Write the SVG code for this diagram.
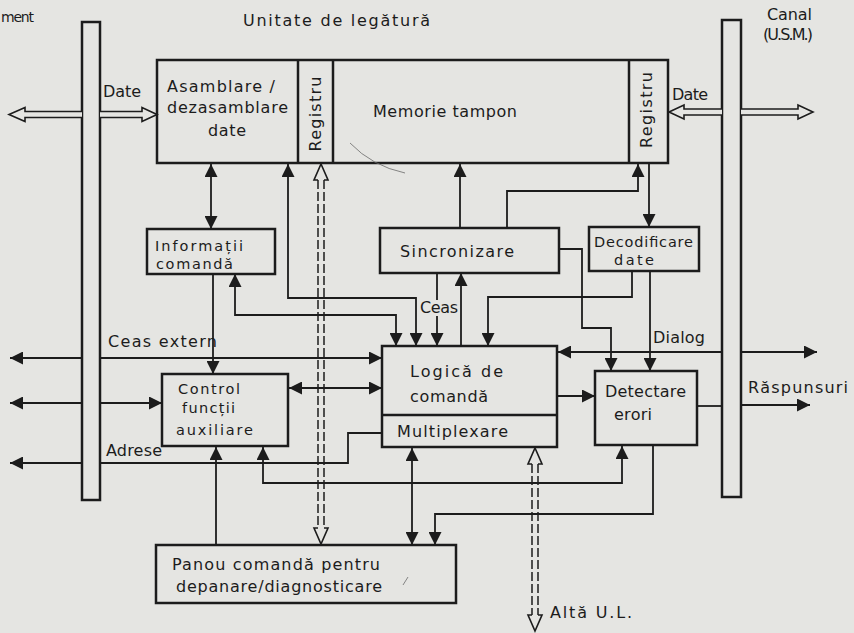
<svg xmlns="http://www.w3.org/2000/svg" width="854" height="633" viewBox="0 0 854 633">
<defs>
<marker id="ah" viewBox="0 0 13 13" refX="13" refY="6.5" markerWidth="13" markerHeight="13" markerUnits="userSpaceOnUse" orient="auto-start-reverse">
<path d="M0,0 L13,6.5 L0,13 z" fill="#1c1c1c"/>
</marker>
<style>
.bg{fill:#e5e5e2}
.box{fill:none;stroke:#1c1c1c;stroke-width:2.5}
.bus{fill:#e5e5e2;stroke:#1c1c1c;stroke-width:2.5}
.ln{fill:none;stroke:#1c1c1c;stroke-width:1.8}
.a1{marker-end:url(#ah)}
.a2{marker-start:url(#ah);marker-end:url(#ah)}
.hol{fill:#e5e5e2;stroke:#1c1c1c;stroke-width:1.6;stroke-linejoin:miter}
.dsh{fill:none;stroke:#1c1c1c;stroke-width:1.5;stroke-dasharray:9 3}
.t{font-family:"DejaVu Sans","Liberation Sans",sans-serif;font-size:16px;fill:#1c1c1c}
.s{font-size:14.5px}
.mark{fill:none;stroke:#6a6a6a;stroke-width:0.8}
</style>
</defs>
<rect class="bg" x="0" y="0" width="854" height="633"/>

<g id="labels">
<text class="t" x="1" y="22" style="font-size:14px" textLength="33">ment</text>
<text class="t" x="243" y="26" textLength="187">Unitate de legătură</text>
<text class="t" x="767" y="20" textLength="45">Canal</text>
<text class="t" x="763" y="40" textLength="50">(U.S.M.)</text>
<text class="t" x="103" y="97" textLength="38">Date</text>
<text class="t" x="672" y="100" textLength="36">Date</text>
<text class="t" x="108" y="347" textLength="109">Ceas extern</text>
<text class="t" x="106" y="456" textLength="56">Adrese</text>
<text class="t" x="420" y="313" textLength="38">Ceas</text>
<text class="t" x="653" y="343" textLength="52">Dialog</text>
<text class="t" x="748" y="393" textLength="100">Răspunsuri</text>
<text class="t" x="550" y="618" textLength="82">Altă U.L.</text>
</g>

<g id="bus-left"><rect class="bus" x="82" y="22" width="18" height="478"/></g>
<g id="bus-right"><rect class="bus" x="722" y="20" width="19" height="477"/></g>

<g id="unitate">
<rect class="box" x="157" y="60" width="511" height="103"/>
<line class="box" x1="298" y1="60" x2="298" y2="163"/>
<line class="box" x1="333" y1="60" x2="333" y2="163"/>
<line class="box" x1="629" y1="60" x2="629" y2="163"/>
</g>
<g id="asamblare">
<text class="t" x="167" y="92" textLength="108">Asamblare /</text>
<text class="t" x="167" y="113" textLength="121">dezasamblare</text>
<text class="t" x="208" y="136" textLength="38">date</text>
</g>
<g id="registru-stanga">
<text class="t" transform="translate(321,114) rotate(-90)" text-anchor="middle" x="0" y="0" textLength="75">Registru</text>
</g>
<g id="memorie">
<text class="t" x="373" y="117" textLength="144">Memorie tampon</text>
</g>
<g id="registru-dreapta">
<text class="t" transform="translate(652,110) rotate(-90)" text-anchor="middle" x="0" y="0" textLength="76">Registru</text>
</g>

<g id="informatii">
<rect class="box" x="147" y="229" width="128" height="45"/>
<text class="t s" x="155" y="251" textLength="88">Informații</text>
<text class="t s" x="156" y="269" textLength="77">comandă</text>
</g>
<g id="sincronizare">
<rect class="box" x="380" y="228" width="179" height="45"/>
<text class="t" x="400" y="257" textLength="114">Sincronizare</text>
</g>
<g id="decodificare">
<rect class="box" x="589" y="227" width="110" height="44"/>
<text class="t s" x="594" y="247" textLength="99">Decodificare</text>
<text class="t s" x="614" y="265" textLength="40">date</text>
</g>
<g id="logica">
<rect class="box" x="382" y="346" width="175" height="101"/>
<line class="box" x1="382" y1="415" x2="557" y2="415"/>
<text class="t" x="410" y="377" textLength="93">Logică de</text>
<text class="t" x="410" y="402" textLength="78">comandă</text>
<text class="t" x="397" y="437" textLength="111">Multiplexare</text>
</g>
<g id="control">
<rect class="box" x="162" y="374" width="126" height="72"/>
<text class="t s" x="178" y="394" textLength="62">Control</text>
<text class="t s" x="182" y="413" textLength="53">funcții</text>
<text class="t s" x="176" y="435" textLength="77">auxiliare</text>
</g>
<g id="detectare">
<rect class="box" x="595" y="371" width="102" height="74"/>
<text class="t" x="605" y="397" textLength="81">Detectare</text>
<text class="t" x="614" y="420" textLength="38">erori</text>
</g>
<g id="panou">
<rect class="box" x="156" y="545" width="300" height="58"/>
<text class="t" x="172" y="570" textLength="208">Panou comandă pentru</text>
<text class="t" x="176" y="592" textLength="206">depanare/diagnosticare</text>
</g>

<g id="connectors">
<path class="ln a2" d="M211,164 V229"/>
<path class="ln a2" d="M288,164 V298 H416 V346"/>
<path class="ln a2" d="M235,274 V315 H396 V346"/>
<path class="ln" d="M437,273 V300"/>
<path class="ln a1" d="M437,316 V346"/>
<path class="ln a1" d="M461,346 V273"/>
<path class="ln a1" d="M632,271 V297 H488 V346"/>
<path class="ln a1" d="M650,271 V371"/>
<path class="ln a1" d="M559,249 H582 V328 H611 V371"/>
<path class="ln a1" d="M460,228 V164"/>
<path class="ln a1" d="M507,228 V191 H638 V164"/>
<path class="ln a1" d="M649,163 V227"/>
<path class="ln a2" d="M289,388 H382"/>
<path class="ln a1" d="M82,358 H10"/>
<path class="ln a1" d="M100,358 H382"/>
<path class="ln a1" d="M213,274 V374"/>
<path class="ln a1" d="M82,403 H10"/>
<path class="ln a1" d="M100,403 H162"/>
<path class="ln a1" d="M82,463 H10"/>
<path class="ln" d="M100,463 H348 V433 H382"/>
<path class="ln a1" d="M216,545 V447"/>
<path class="ln a2" d="M263,447 V483 H622 V446"/>
<path class="ln a2" d="M412,545 V448"/>
<path class="ln a1" d="M653,445 V514 H435 V545"/>
<path class="ln a1" d="M722,352 H558"/>
<path class="ln a1" d="M557,396 H595"/>
<path class="ln" d="M697,406 H722"/>
<path class="ln a1" d="M741,352 H817"/>
<path class="ln a1" d="M741,405 H810"/>
<path class="hol" d="M82,111.5 H25 V107.5 L9,114.5 L25,121.5 V117.5 H82"/>
<path class="hol" d="M100,111.5 H142 V107.5 L157,114.5 L142,121.5 V117.5 H100"/>
<path class="hol" d="M722,109 H684 V105 L669,112 L684,119 V115 H722"/>
<path class="hol" d="M741,109 H798 V105 L813,112 L798,119 V115 H741"/>
<path class="hol" d="M318,180 H314 L321,164 L328,180 H324"/>
<path class="dsh" d="M318,180 V528 M324,180 V528"/>
<path class="hol" d="M318,528 H314 L321,544 L328,528 H324"/>
<path class="hol" d="M532,464 H528 L535,448 L542,464 H538"/>
<path class="dsh" d="M532,464 V615 M538,464 V615"/>
<path class="hol" d="M532,615 H528 L535,631 L542,615 H538"/>
</g>

<g id="marks">
<path class="mark" d="M350,143 Q372,166 405,173"/>
<path class="mark" d="M403,585 L408,577"/>
</g>
</svg>
